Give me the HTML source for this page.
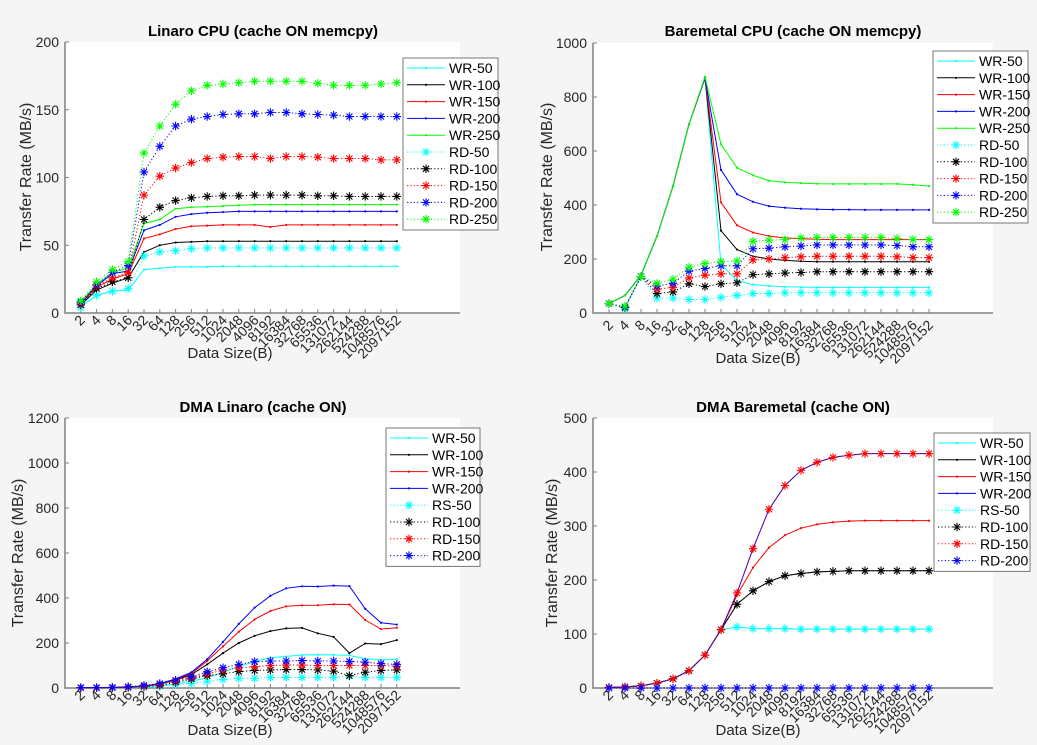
<!DOCTYPE html>
<html><head><meta charset="utf-8">
<style>
html,body{margin:0;padding:0;background:#f5f5f5;}
svg{display:block;font-family:"Liberation Sans",sans-serif;}
</style></head>
<body>
<svg id="fig" width="1037" height="745" viewBox="0 0 1037 745" xmlns="http://www.w3.org/2000/svg">
<rect width="1037" height="745" fill="#f5f5f5"/>
</svg>
<script>
const xCategories = ["2","4","8","16","32","64","128","256","512","1024","2048","4096","8192","16384","32768","65536","131072","262144","524288","1048576","2097152"];

// Panel 1: Linaro CPU
const p1Names = ["WR-50","WR-100","WR-150","WR-200","WR-250","RD-50","RD-100","RD-150","RD-200","RD-250"];
const p1WR50 = [5,13,16,17,32,33,34,34,34,34.5,34.5,34.5,34.5,34.5,34.5,34.5,34.5,34.5,34.5,34.5,34.5];
const p1WR100 = [6,17,22,26,45,50,52,52.5,53,53,53,53,53,53,53,53,53,53,53,53,53];
const p1WR150 = [7,19,25,29,55,58,62,64,64.5,65,65,65,63.5,65,65,65,65,65,65,65,65];
const p1WR200 = [7,20,29,31,61,65,71,73,74,74.5,75,75,75,75,75,75,75,75,75,75,75];
const p1WR250 = [8,21,30,33,66,69,77,78,78.5,79,79.5,80,80,80,80,80,80,80,80,80,80];
const p1RD50 = [4,13,16,18,42,45,46,47.5,48,48,48,48,48,48,48,48,48,48,48,48,48];
const p1RD100 = [6,18,23,26,69,78,83,85,86,86.5,86.5,87,87,87,87,86.5,86.5,86,86,86,86];
const p1RD150 = [7,20,26,30,87,101,107,111,114,115,115.5,115.5,114,115.5,115.5,115,114,114,114,113,113];
const p1RD200 = [8,21,30,35,104,123,138,143,145,146.5,147,147,148,148,147,146.5,146,145,145,145,145];
const p1RD250 = [9,23,32,38,118,138,154,164,168,169,170,171,171,171,171,169.5,168,168,168,169,170];
const p1YTicks = [0,50,100,150,200];

// Panel 2: Baremetal CPU
const p2Names = ["WR-50","WR-100","WR-150","WR-200","WR-250","RD-50","RD-100","RD-150","RD-200","RD-250"];
const p2WR50 = [35,65,140,285,470,700,870,180,120,105,100,97,96,95,95,95,95,95,95,95,95];
const p2WR100 = [35,65,140,285,470,700,870,305,235,210,200,195,192,190,190,190,190,190,190,190,190];
const p2WR150 = [35,65,140,285,470,700,870,410,325,298,285,278,275,273,272,272,272,272,272,272,272];
const p2WR200 = [35,65,140,285,470,700,870,530,440,412,396,390,386,384,383,383,382,382,382,382,382];
const p2WR250 = [35,65,140,285,470,700,875,625,538,510,490,484,481,479,478,478,478,478,478,475,470];
const p2RD50 = [35,15,135,55,55,50,50,58,65,72,72,75,75,75,75,75,75,75,75,75,75];
const p2RD100 = [35,20,135,72,78,108,98,108,112,142,145,148,150,153,153,153,153,153,153,153,153];
const p2RD150 = [35,22,135,88,95,130,140,145,145,197,200,205,208,210,210,210,210,210,208,205,205];
const p2RD200 = [35,22,135,100,110,155,165,175,175,238,240,245,248,252,252,252,252,252,250,245,245];
const p2RD250 = [35,25,135,110,125,170,183,190,193,265,270,272,278,280,280,280,280,280,276,272,272];
const p2YTicks = [0,200,400,600,800,1000];

// Panel 3: DMA Linaro
const p3Names = ["WR-50","WR-100","WR-150","WR-200","RS-50","RD-100","RD-150","RD-200"];
const p3WR50 = [1,1,2,3,5,10,18,30,45,70,95,118,135,140,147,148,147,145,130,125,128];
const p3WR100 = [1,1,2,4,8,18,35,60,105,155,200,232,253,265,267,243,227,155,198,195,213];
const p3WR150 = [1,1,2,4,9,19,38,65,120,185,250,305,342,363,367,368,372,371,302,262,268];
const p3WR200 = [1,1,2,4,9,20,40,70,128,205,285,357,410,443,452,451,455,453,352,290,282];
const p3RS50 = [1,1,1,2,4,8,15,20,30,38,43,43,47,47,47,47,47,52,47,47,47];
const p3RD100 = [1,1,2,3,6,12,25,40,55,63,73,78,80,82,82,80,75,55,70,78,80];
const p3RD150 = [1,1,2,4,8,16,30,45,62,80,90,95,100,102,102,100,100,100,100,100,97];
const p3RD200 = [2,2,3,6,12,20,35,50,72,90,105,117,120,120,122,120,120,118,115,108,105];
const p3YTicks = [0,200,400,600,800,1000,1200];

// Panel 4: DMA Baremetal
const p4Names = ["WR-50","WR-100","WR-150","WR-200","RS-50","RD-100","RD-150","RD-200"];
const p4WR50 = [1,2,4,9,17,32,61,108,113,110,110,110,109,109,109,109,109,109,109,109,109];
const p4WR100 = [1,2,4,9,17,32,61,108,155,180,197,208,212,215,216,217,217,217,217,217,217];
const p4WR150 = [1,2,4,9,17,32,61,108,172,223,260,283,296,303,307,309,310,310,310,310,310];
const p4WR200 = [1,2,4,9,17,32,61,108,176,258,331,375,403,418,427,431,434,434,434,434,434];
const p4RS50 = [1,2,4,9,17,32,61,108,113,110,110,110,109,109,109,109,109,109,109,109,109];
const p4RD100 = [1,2,4,9,17,32,61,108,155,180,197,208,212,215,216,217,217,217,217,217,217];
const p4RD150 = [1,2,4,9,17,32,61,108,176,258,331,375,403,418,427,431,434,434,434,434,434];
const p4RD200 = [0,0,0,0,0,0,0,0,0,0,0,0,0,0,0,0,0,0,0,0,0];
const p4YTicks = [0,100,200,300,400,500];

const NS = "http://www.w3.org/2000/svg";
const svg = document.getElementById("fig");
function mk(tag, attrs, parent){
  const e = document.createElementNS(NS, tag);
  for (const k in attrs) e.setAttribute(k, attrs[k]);
  (parent||svg).appendChild(e);
  return e;
}
const COLORS = ["#00ffff","#000000","#ff0000","#0000ff","#00ff00"];

function star(g, x, y, c){
  const s = 4.2, d = 3;
  mk("path", {d:`M${x-s},${y}H${x+s}M${x},${y-s}V${y+s}M${x-d},${y-d}L${x+d},${y+d}M${x-d},${y+d}L${x+d},${y-d}`, stroke:c, "stroke-width":1.1, fill:"none"}, g);
}

function panel(cfg){
  const g = mk("g", {});
  
  
  const L=cfg.L, R=cfg.R, T=cfg.T, B=cfg.B, ymax=cfg.yTicks[cfg.yTicks.length-1];
  const xs = i => L + (i+1)*(R-L)/25;
  const ys = v => B - v/ymax*(B-T);
  const bg = mk("rect", {x:L, y:T, width:R-L, height:B-T, fill:"#ffffff"}, g);
  
  
  const tt = mk("text", {x:cfg.tx, y:cfg.ty, "text-anchor":"middle", "font-size":"15", "font-weight":"bold", fill:"#000"}, g);
  tt.textContent = cfg.title;
  
  
  cfg.yTicks.forEach(v=>{
    const y = ys(v);
    mk("line", {x1:L, x2:L+4, y1:y, y2:y, stroke:"#808080", "stroke-width":1}, g);
    const t = mk("text", {x:L-6, y:y+5, "text-anchor":"end", "font-size":"14", fill:"#262626"}, g);
    t.textContent = v;
    
    
  });
  xCategories.forEach((c,i)=>{
    const x = xs(i);
    mk("line", {x1:x, x2:x, y1:B, y2:B-4, stroke:"#808080", "stroke-width":1}, g);
    const ax = x+5, ay = B+cfg.xlOff;
    const t = mk("text", {x:ax, y:ay, "text-anchor":"end", "font-size":"14", fill:"#262626", transform:`rotate(-45 ${ax} ${ay})`}, g);
    t.textContent = c;
    
    
  });
  mk("path", {d:`M${L},${T}V${B}H${R}`, stroke:"#808080", "stroke-width":1.5, fill:"none"}, g);
  const xl = mk("text", {x:cfg.xlx, y:cfg.xly, "text-anchor":"middle", "font-size":"15", fill:"#262626"}, g);
  xl.textContent = "Data Size(B)";
  
  
  const yl = mk("text", {x:cfg.ylx, y:cfg.yly, "text-anchor":"middle", "font-size":"16", fill:"#262626", transform:`rotate(-90 ${cfg.ylx} ${cfg.yly})`}, g);
  yl.textContent = "Transfer Rate (MB/s)";
  
  
  const nW = cfg.wr.length;
  cfg.wr.forEach((arr,k)=>{
    const sg = mk("g", {}, g);
    
    
    const pts = arr.map((v,i)=>`${xs(i).toFixed(1)},${ys(v).toFixed(1)}`).join(" ");
    mk("polyline", {points:pts, fill:"none", stroke:COLORS[k], "stroke-width":1}, sg);
    arr.forEach((v,i)=>mk("circle", {cx:xs(i), cy:ys(v), r:1.1, fill:COLORS[k]}, sg));
  });
  cfg.rd.forEach((arr,k)=>{
    const sg = mk("g", {}, g);
    
    
    const pts = arr.map((v,i)=>`${xs(i).toFixed(1)},${ys(v).toFixed(1)}`).join(" ");
    mk("polyline", {points:pts, fill:"none", stroke:COLORS[k], "stroke-width":1, "stroke-dasharray":"1.2 2.2"}, sg);
    arr.forEach((v,i)=>star(sg, xs(i), ys(v), COLORS[k]));
  });
  const lg = mk("g", {}, g);
  
  
  const n = cfg.names.length, lx = cfg.lx, ly = cfg.ly, lw = cfg.lw, rowH = 16.8;
  mk("rect", {x:lx, y:ly, width:lw, height:n*rowH+4, fill:"#fff", stroke:"#777", "stroke-width":1}, lg);
  cfg.names.forEach((nm,k)=>{
    const y = ly + 10 + k*rowH;
    const c = COLORS[k % nW];
    const isRd = k >= nW;
    const eg = mk("g", {}, lg);
    
    
    if (!isRd){
      mk("line", {x1:lx+4, x2:lx+42, y1:y, y2:y, stroke:c, "stroke-width":1}, eg);
      mk("circle", {cx:lx+23, cy:y, r:1.1, fill:c}, eg);
    } else {
      mk("line", {x1:lx+4, x2:lx+42, y1:y, y2:y, stroke:c, "stroke-width":1, "stroke-dasharray":"1.2 2.2"}, eg);
      star(eg, lx+23, y, c);
    }
    const t = mk("text", {x:lx+46, y:y+5, "font-size":"14", fill:"#000"}, eg);
    t.textContent = nm;
  });
}

panel({id:"linaro-cpu-chart", title:"Linaro CPU (cache ON memcpy)", L:65, R:460, T:42, B:313,
  yTicks:p1YTicks, tx:263, ty:36, xlOff:8, xlx:230, xly:358, ylx:31, yly:177,
  names:p1Names, wr:[p1WR50,p1WR100,p1WR150,p1WR200,p1WR250], rd:[p1RD50,p1RD100,p1RD150,p1RD200,p1RD250],
  lx:403, ly:58, lw:95});
panel({id:"baremetal-cpu-chart", title:"Baremetal CPU (cache ON memcpy)", L:593, R:993, T:43, B:313,
  yTicks:p2YTicks, tx:793, ty:36, xlOff:13, xlx:758, xly:363, ylx:552, yly:177,
  names:p2Names, wr:[p2WR50,p2WR100,p2WR150,p2WR200,p2WR250], rd:[p2RD50,p2RD100,p2RD150,p2RD200,p2RD250],
  lx:933, ly:51, lw:95});
panel({id:"dma-linaro-chart", title:"DMA Linaro (cache ON)", L:65, R:460, T:418, B:688,
  yTicks:p3YTicks, tx:263, ty:412, xlOff:8, xlx:230, xly:735, ylx:23, yly:553,
  names:p3Names, wr:[p3WR50,p3WR100,p3WR150,p3WR200], rd:[p3RS50,p3RD100,p3RD150,p3RD200],
  lx:386, ly:428, lw:94});
panel({id:"dma-baremetal-chart", title:"DMA Baremetal (cache ON)", L:593, R:993, T:418, B:688,
  yTicks:p4YTicks, tx:793, ty:412, xlOff:8, xlx:758, xly:735, ylx:557, yly:553,
  names:p4Names, wr:[p4WR50,p4WR100,p4WR150,p4WR200], rd:[p4RS50,p4RD100,p4RD150,p4RD200],
  lx:934, ly:433, lw:96});
</script>
</body></html>
